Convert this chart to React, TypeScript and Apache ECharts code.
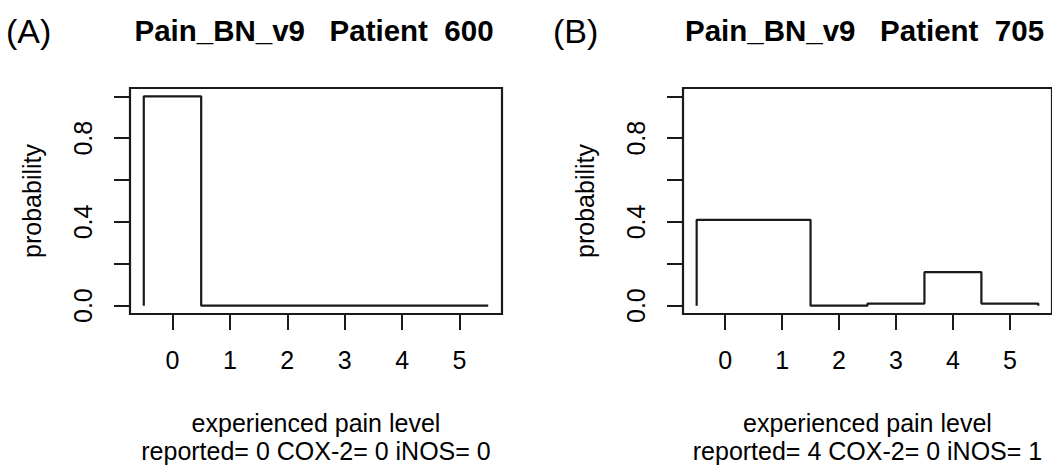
import React, { useEffect, useRef } from "react";
import * as echarts from "echarts";

const levels = [0, 1, 2, 3, 4, 5];
const probA = [1.0, 0, 0, 0, 0, 0];
const probB = [0.41, 0.41, 0.0, 0.01, 0.16, 0.01];
const xTicks = [0, 1, 2, 3, 4, 5];
const yTicks = [0, 0.2, 0.4, 0.6, 0.8, 1.0];
const yLabels = [0, 0.4, 0.8];
const panelTags = ["(A)", "(B)"];
const panelTitles = ["Pain_BN_v9   Patient  600", "Pain_BN_v9   Patient  705"];
const xNames = [
  "experienced pain level\nreported= 0 COX-2= 0 iNOS= 0",
  "experienced pain level\nreported= 4 COX-2= 0 iNOS= 1",
];
const yName = "probability";

const FONT = "'Liberation Sans', Arial, sans-serif";
const INK = "#1a1a1a";

function stepPoints(lv: number[], p: number[]): number[][] {
  const pts: number[][] = [[lv[0] - 0.5, 0]];
  lv.forEach((l, i) => {
    pts.push([l - 0.5, p[i]]);
    pts.push([l + 0.5, p[i]]);
  });
  pts.push([lv[lv.length - 1] + 0.5, 0]);
  return pts;
}

export default function App() {
  const ref = useRef<HTMLDivElement>(null);
  useEffect(() => {
    if (!ref.current) return;
    const chart = echarts.init(ref.current, null, { renderer: "svg" });
    const grids = [
      { left: 130, top: 88, width: 372, height: 231 },
      { left: 683, top: 88, width: 373, height: 231 },
    ];
    const xAxes = grids.map((_, i) => ({
      type: "value",
      gridIndex: i,
      min: -0.74,
      max: 5.74,
      name: xNames[i],
      nameLocation: "middle",
      nameGap: 95,
      nameTextStyle: { fontSize: 25, lineHeight: 28, fontFamily: FONT, color: "#000" },
      axisLine: { show: false, onZero: false },
      splitLine: { show: false },
      axisTick: { show: true, inside: false, customValues: xTicks, length: 16, lineStyle: { color: INK, width: 2 } },
      axisLabel: {
        customValues: xTicks,
        margin: 33,
        fontSize: 25,
        lineHeight: 25,
        fontFamily: FONT,
        color: "#000",
        formatter: (v: number) => String(v),
      },
    }));
    const yAxes = grids.map((_, i) => ({
      type: "value",
      gridIndex: i,
      min: -0.04,
      max: 1.04,
      name: yName,
      nameLocation: "middle",
      nameRotate: 90,
      nameGap: 86,
      nameTextStyle: { fontSize: 25, lineHeight: 25, fontFamily: FONT, color: "#000" },
      axisLine: { show: false, onZero: false },
      splitLine: { show: false },
      axisTick: { show: true, inside: false, customValues: yTicks, length: 16, lineStyle: { color: INK, width: 2 } },
      axisLabel: {
        customValues: yLabels,
        rotate: 90,
        margin: 34.5,
        fontSize: 25,
        lineHeight: 25,
        fontFamily: FONT,
        color: "#000",
        formatter: (v: number) => v.toFixed(1),
      },
    }));
    const centers = grids.map((g) => g.left + g.width / 2);
    chart.setOption({
      animation: false,
      backgroundColor: "#fff",
      grid: grids.map((g) => ({
        ...g,
        show: true,
        borderColor: INK,
        borderWidth: 2.2,
        backgroundColor: "transparent",
      })),
      xAxis: xAxes,
      yAxis: yAxes,
      graphic: [
        ...panelTags.map((t, i) => ({
          type: "text",
          x: i === 0 ? 6 : 553,
          y: 31,
          style: { text: t, fontSize: 34, fontFamily: FONT, fill: "#000", textAlign: "left", verticalAlign: "middle" },
        })),
        ...panelTitles.map((t, i) => ({
          type: "text",
          x: i === 0 ? centers[0] - 2 : centers[1] - 5,
          y: 30,
          style: {
            text: t,
            fontSize: 29.5,
            fontWeight: "bold",
            fontFamily: FONT,
            fill: "#000",
            textAlign: "center",
            verticalAlign: "middle",
          },
        })),
      ],
      series: [probA, probB].map((p, i) => ({
        type: "line",
        xAxisIndex: i,
        yAxisIndex: i,
        data: stepPoints(levels, p),
        symbol: "none",
        lineStyle: { color: INK, width: 2.2 },
      })),
    });
    return () => chart.dispose();
  }, []);
  return (
    <div
      ref={ref}
      style={{ position: "absolute", left: 0, top: 0, width: 1052, height: 466, background: "#fff" }}
    />
  );
}
